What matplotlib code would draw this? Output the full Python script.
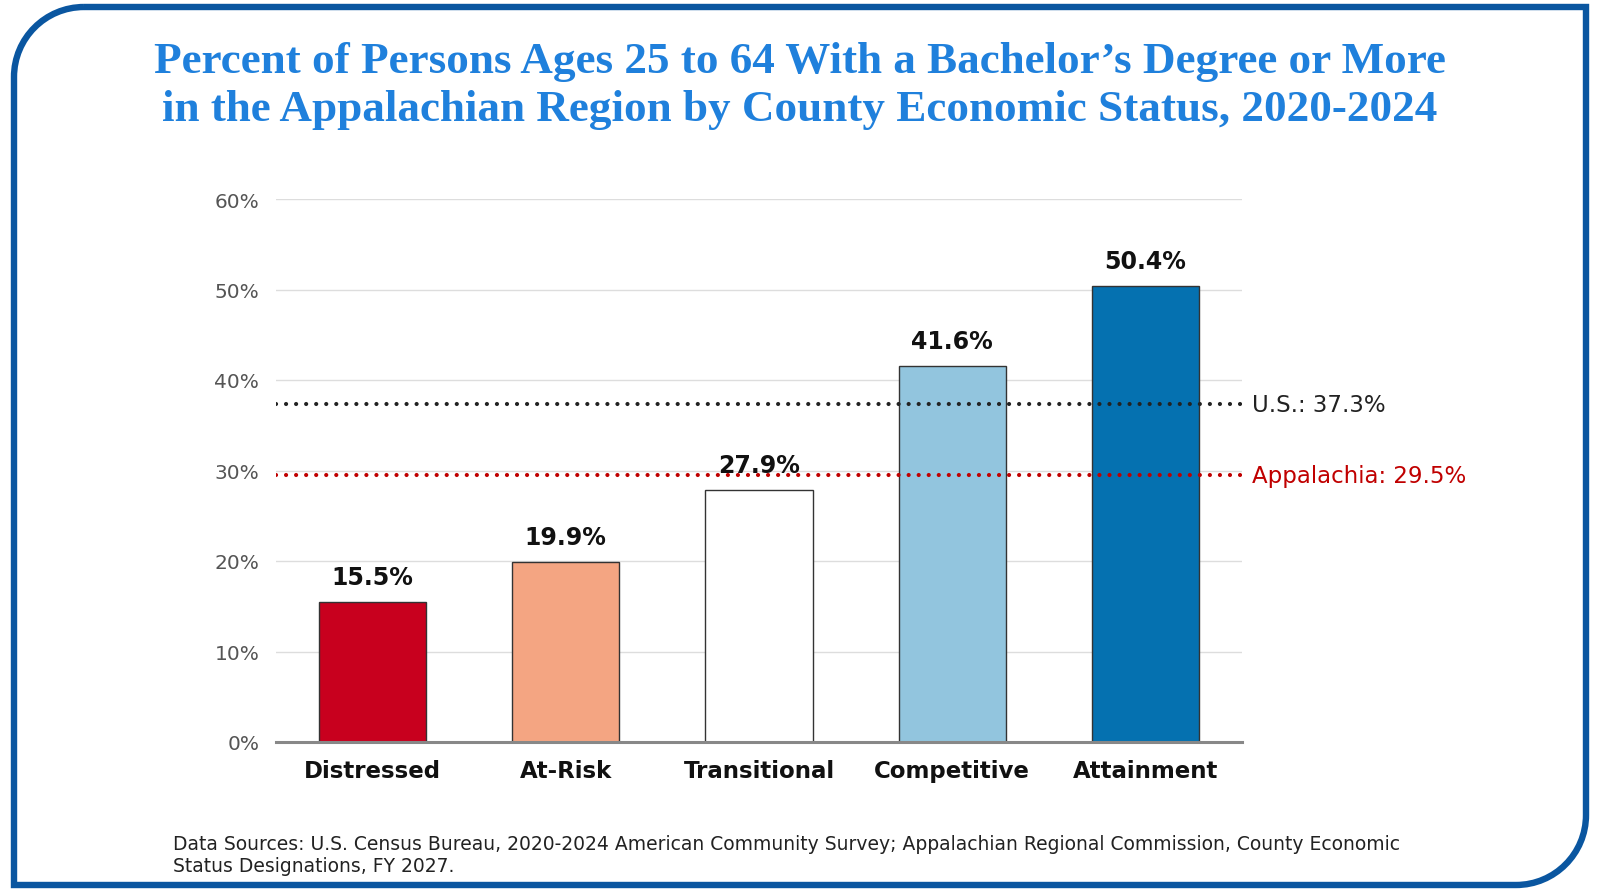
import matplotlib
matplotlib.use('Agg')
import matplotlib.pyplot as plt
from matplotlib.path import Path
from matplotlib.patches import PathPatch

categories = ['Distressed', 'At-Risk', 'Transitional', 'Competitive', 'Attainment']
values = [15.5, 19.9, 27.9, 41.6, 50.4]
bar_colors = ['#c8001e', '#f4a582', '#ffffff', '#92c5de', '#0571b0']
yticks = [0, 10, 20, 30, 40, 50, 60]
us_value = 37.3
app_value = 29.5

title = ('Percent of Persons Ages 25 to 64 With a Bachelor\u2019s Degree or More\n'
         'in the Appalachian Region by County Economic Status, 2020-2024')
source = ('Data Sources: U.S. Census Bureau, 2020-2024 American Community Survey; '
          'Appalachian Regional Commission, County Economic\nStatus Designations, FY 2027.')

plt.rcParams['font.family'] = ['DejaVu Sans']

W, H = 1600, 895
fig = plt.figure(figsize=(W / 100, H / 100), dpi=100)

# frame with two rounded corners (top-left, bottom-right)
bg = fig.add_axes([0, 0, 1, 1])
bg.set_xlim(0, W)
bg.set_ylim(H, 0)
bg.axis('off')
r = 70
x0, y0, x1, y1 = 14, 8, 1586, 886
k = 0.5523
verts = [(x0 + r, y0), (x1, y0), (x1, y1 - r),
         (x1, y1 - r + r * k), (x1 - r + r * k, y1), (x1 - r, y1),
         (x0, y1), (x0, y0 + r),
         (x0, y0 + r - r * k), (x0 + r - r * k, y0), (x0 + r, y0)]
codes = [Path.MOVETO, Path.LINETO, Path.LINETO,
         Path.CURVE4, Path.CURVE4, Path.CURVE4,
         Path.LINETO, Path.LINETO,
         Path.CURVE4, Path.CURVE4, Path.CURVE4]
bg.add_patch(PathPatch(Path(verts, codes), facecolor='none',
                       edgecolor='#0a56a0', lw=4.6, joinstyle='miter'))

fig.text(0.5, 1 - 86 / H, title, ha='center', va='center', fontsize=32.5,
         family='Liberation Serif', weight='bold', color='#1f80dc',
         linespacing=1.27)
fig.text(173 / W, 1 - 856 / H, source, ha='left', va='center', fontsize=13.5,
         color='#222222', linespacing=1.2)

ax = fig.add_axes([276 / W, 1 - 743 / H, (1242 - 276) / W, (743 - 200) / H])
x = range(len(categories))
ax.bar(x, values, width=0.555, color=bar_colors, edgecolor='#333333',
       linewidth=1.0, zorder=2)
ax.set_xlim(-0.5, len(categories) - 0.5)
ax.set_ylim(0, 60)
ax.set_yticks(yticks)
ax.set_yticklabels([f'{t}%' for t in yticks], fontsize=14.5, color='#555555')
ax.set_xticks(list(x))
ax.set_xticklabels(categories, fontsize=16.5, weight='bold', color='#111111')
ax.tick_params(axis='both', length=0)
ax.tick_params(axis='y', pad=12)
ax.tick_params(axis='x', pad=12)
ax.yaxis.grid(True, color='#dddddd', lw=1.0, zorder=0)
ax.set_axisbelow(True)
for s in ['top', 'right', 'left']:
    ax.spines[s].set_visible(False)
ax.spines['bottom'].set_color('#888888')
ax.spines['bottom'].set_linewidth(2.2)
ax.spines['bottom'].set_zorder(3)

for i, v in enumerate(values):
    ax.text(i, v + 1.4, f'{v}%', ha='center', va='bottom', fontsize=17,
            weight='bold', color='#111111')

ax.axhline(us_value, color='#222222', lw=3.0, linestyle=(0, (0.01, 2.4)),
           dash_capstyle='round', zorder=4)
ax.axhline(app_value, color='#c00000', lw=3.0, linestyle=(0, (0.01, 2.4)),
           dash_capstyle='round', zorder=4)
ax.text(1.01, us_value, f'U.S.: {us_value}%', transform=ax.get_yaxis_transform(),
        ha='left', va='center', fontsize=16.5, color='#222222', clip_on=False)
ax.text(1.01, app_value, f'Appalachia: {app_value}%',
        transform=ax.get_yaxis_transform(), ha='left', va='center',
        fontsize=16.5, color='#c00000', clip_on=False)

fig.savefig('out.png', dpi=100)
